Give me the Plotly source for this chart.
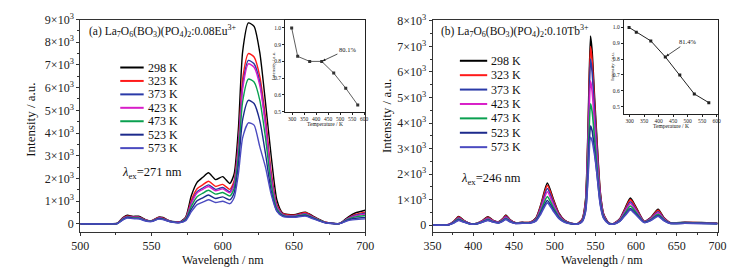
import plotly.graph_objects as go

# ---------------- data ----------------
temps = ["298 K", "323 K", "373 K", "423 K", "473 K", "523 K", "573 K"]
colors = ["#000000", "#ff1a1a", "#2a3aa8", "#d81ec8", "#0aa050", "#1c2a8c", "#4b4bc0"]

# Panel (a): Eu3+ emission
wl_a = [500, 520, 526, 530, 533, 537, 541, 546, 550, 555, 558, 563, 570, 574, 578,
        582, 586, 590, 595, 600, 605, 608, 611, 614, 618, 622, 626, 630, 634, 638,
        642, 650, 658, 664, 672, 682, 688, 693, 700]
a_298 = [0, 0, 30, 280, 380, 330, 340, 180, 140, 300, 280, 130, 90, 300, 1250,
         1830, 2050, 2250, 1950, 2080, 1780, 2200, 4200, 7600, 8850, 8700, 7550, 5350, 3000, 1050,
         480, 400, 520, 320, 80, 20, 300, 480, 600]
a_323 = [0, 0, 25, 260, 350, 310, 310, 170, 130, 280, 260, 120, 80, 260, 1050,
         1550, 1720, 1880, 1650, 1740, 1520, 1900, 3600, 6400, 7500, 7350, 6500, 4700, 2300, 850,
         450, 380, 490, 300, 70, 20, 260, 420, 520]
a_373 = [0, 0, 22, 240, 330, 290, 290, 160, 125, 265, 245, 115, 75, 240, 950,
         1420, 1580, 1720, 1520, 1600, 1420, 1780, 3400, 6100, 7200, 7050, 6250, 4450, 2100, 780,
         420, 360, 450, 280, 65, 18, 240, 380, 470]
a_423 = [0, 0, 20, 230, 320, 280, 280, 155, 120, 255, 235, 110, 70, 230, 900,
         1360, 1520, 1650, 1460, 1540, 1370, 1720, 3300, 5950, 7050, 6900, 6100, 4350, 2000, 740,
         400, 350, 430, 270, 60, 16, 230, 350, 430]
a_473 = [0, 0, 18, 210, 300, 260, 260, 145, 115, 240, 220, 105, 65, 200, 780,
         1200, 1350, 1480, 1310, 1380, 1230, 1560, 3000, 5400, 6380, 6250, 5450, 3800, 1750, 660,
         380, 330, 400, 250, 55, 15, 210, 310, 370]
a_523 = [0, 0, 16, 190, 280, 245, 240, 135, 110, 225, 205, 100, 60, 170, 650,
         1020, 1150, 1270, 1120, 1190, 1060, 1360, 2600, 4600, 5440, 5300, 4550, 3100, 1450, 570,
         350, 310, 370, 230, 50, 14, 180, 250, 280]
a_573 = [0, 0, 15, 175, 260, 230, 225, 125, 105, 210, 190, 95, 55, 140, 540,
         850, 960, 1060, 940, 1000, 890, 1150, 2200, 3800, 4450, 4350, 3400, 2500, 1300, 550,
         330, 290, 340, 210, 45, 12, 150, 190, 220]
series_a = [a_298, a_323, a_373, a_423, a_473, a_523, a_573]

# Panel (b): Tb3+ emission
wl_b = [350, 370, 376, 382, 388, 397, 405, 412, 418, 424, 431, 436, 440, 445, 452, 460,
        470, 477, 483, 491, 498, 505, 512, 520, 528, 534, 538, 541, 544, 546, 549, 552,
        556, 560, 566, 572, 580, 587, 593, 600, 610, 618, 627, 634, 642, 660, 680, 700]
b_298 = [10, 30, 150, 340, 200, 60, 80, 200, 330, 200, 130, 250, 400, 220, 100, 110,
         120, 280, 800, 1650, 1050, 480, 200, 80, 60, 250, 1000, 3800, 7400, 6800, 5000, 3300,
         1300, 450, 100, 60, 250, 700, 1060, 700, 150, 300, 620, 300, 100, 110, 100, 80]
b_323 = [10, 28, 140, 320, 190, 58, 76, 190, 310, 190, 125, 235, 370, 210, 95, 105,
         115, 265, 760, 1560, 1000, 455, 190, 76, 57, 235, 950, 3600, 7000, 6450, 4750, 3150,
         1250, 430, 95, 57, 235, 660, 1000, 660, 145, 285, 580, 285, 95, 105, 95, 76]
b_373 = [10, 26, 130, 290, 175, 55, 72, 175, 280, 175, 115, 215, 340, 195, 90, 100,
         108, 245, 700, 1440, 920, 420, 175, 72, 54, 220, 880, 3350, 6500, 6000, 4450, 2950,
         1180, 400, 90, 54, 220, 610, 920, 610, 138, 265, 530, 265, 90, 100, 90, 72]
b_423 = [9, 24, 120, 270, 165, 52, 68, 165, 260, 165, 108, 200, 310, 180, 85, 95,
         102, 225, 640, 1310, 840, 385, 162, 68, 52, 200, 800, 2950, 5650, 5250, 3950, 2650,
         1080, 370, 85, 52, 205, 565, 850, 565, 130, 245, 490, 245, 85, 95, 85, 68]
b_473 = [8, 22, 108, 240, 150, 48, 62, 148, 230, 148, 98, 180, 270, 160, 78, 88,
         95, 200, 560, 1120, 720, 335, 145, 62, 48, 180, 680, 2500, 4750, 4450, 3400, 2300,
         950, 330, 78, 48, 180, 500, 750, 500, 120, 220, 430, 220, 78, 88, 78, 62]
b_523 = [8, 20, 95, 210, 132, 45, 58, 132, 200, 132, 90, 160, 240, 145, 72, 80,
         88, 180, 490, 970, 630, 295, 130, 58, 45, 160, 580, 2050, 3880, 3700, 2900, 2000,
         850, 300, 72, 45, 160, 435, 650, 435, 110, 195, 380, 195, 72, 80, 72, 58]
b_573 = [7, 18, 88, 190, 122, 42, 55, 125, 190, 125, 85, 150, 230, 138, 68, 76,
         84, 165, 440, 875, 570, 270, 120, 55, 42, 150, 540, 1850, 3440, 3300, 2750, 2000,
         800, 280, 68, 42, 150, 400, 600, 400, 105, 180, 350, 180, 68, 76, 68, 55]
series_b = [b_298, b_323, b_373, b_423, b_473, b_523, b_573]

# Insets: normalised intensity vs temperature
inset_T = [298, 323, 373, 423, 473, 523, 573]
inset_a = [1.00, 0.83, 0.80, 0.80, 0.73, 0.64, 0.54]
inset_b = [1.00, 0.97, 0.915, 0.814, 0.70, 0.58, 0.525]

y_ticks_a = [0, 1000, 2000, 3000, 4000, 5000, 6000, 7000, 8000, 9000]
y_ticks_b = [0, 1000, 2000, 3000, 4000, 5000, 6000, 7000, 8000]
x_ticks_a = [500, 550, 600, 650, 700]
x_ticks_b = [350, 400, 450, 500, 550, 600, 650, 700]
inset_x_ticks = [300, 350, 400, 450, 500, 550, 600]
inset_y_ticks = [0.5, 0.6, 0.7, 0.8, 0.9, 1.0]

for s in series_a:
    assert len(s) == len(wl_a)
for s in series_b:
    assert len(s) == len(wl_b)

# ---------------- figure ----------------
W, H = 747, 273
FONT = "Liberation Serif"
AX = "#333333"


def px(x):
    return x / W


def py(y):
    return 1 - y / H


def sci(v):
    return "0" if v == 0 else f"{v // 1000}×10<sup>3</sup>"


fig = go.Figure()

for name, col, ya in zip(temps, colors, series_a):
    fig.add_trace(go.Scatter(x=wl_a, y=ya, mode="lines", name=name,
                             line=dict(color=col, width=1.4, shape="spline", smoothing=0.6),
                             xaxis="x", yaxis="y", showlegend=False))
for name, col, yb in zip(temps, colors, series_b):
    fig.add_trace(go.Scatter(x=wl_b, y=yb, mode="lines", name=name,
                             line=dict(color=col, width=1.6, shape="spline", smoothing=0.6),
                             xaxis="x2", yaxis="y2", showlegend=False))

fig.add_trace(go.Scatter(x=inset_T, y=inset_a, mode="lines+markers",
                         line=dict(color="#333", width=0.8),
                         marker=dict(symbol="square", size=3, color="#333"),
                         xaxis="x3", yaxis="y3", showlegend=False))
fig.add_trace(go.Scatter(x=inset_T, y=inset_b, mode="lines+markers",
                         line=dict(color="#222", width=1),
                         marker=dict(symbol="square", size=3, color="#222"),
                         xaxis="x4", yaxis="y4", showlegend=False))

main_axis = dict(showline=True, mirror=True, linecolor=AX, linewidth=1, showgrid=False,
                 zeroline=False, ticks="outside", ticklen=3, tickcolor=AX,
                 tickfont=dict(family=FONT, size=12, color="#222"))
inset_axis = dict(showline=True, mirror=True, linecolor="#222", linewidth=1, showgrid=False,
                  zeroline=False, ticks="outside", ticklen=2, tickcolor="#222",
                  tickfont=dict(family=FONT, size=5.5, color="#222"))

fig.update_layout(
    width=W, height=H, margin=dict(l=0, r=0, t=0, b=0),
    paper_bgcolor="white", plot_bgcolor="white",
    font=dict(family=FONT, color="#222"),
    xaxis=dict(main_axis, domain=[px(73), px(365)], range=[500, 700], anchor="y",
               tickvals=x_ticks_a, minor=dict(ticks="outside", ticklen=2, dtick=25, tick0=500)),
    yaxis=dict(main_axis, domain=[py(233), py(12)], range=[-340, 9000], anchor="x",
               tickvals=y_ticks_a, ticktext=[sci(v) for v in y_ticks_a],
               minor=dict(ticks="outside", ticklen=2, dtick=500, tick0=0)),
    xaxis2=dict(main_axis, domain=[px(434), px(726)], range=[350, 700], anchor="y2",
                tickvals=x_ticks_b, minor=dict(ticks="outside", ticklen=2, dtick=25, tick0=350)),
    yaxis2=dict(main_axis, domain=[py(233), py(12)], range=[-250, 8050], anchor="x2",
                tickvals=y_ticks_b, ticktext=[sci(v) for v in y_ticks_b],
                minor=dict(ticks="outside", ticklen=2, dtick=500, tick0=0)),
    xaxis3=dict(inset_axis, domain=[px(283), px(365)], range=[271, 604], anchor="y3",
                tickvals=inset_x_ticks),
    yaxis3=dict(inset_axis, domain=[py(108), py(12)], range=[0.5, 1.05], anchor="x3",
                tickvals=inset_y_ticks, tickformat=".1f"),
    xaxis4=dict(inset_axis, domain=[px(630), px(726)], range=[280, 603], anchor="y4",
                tickvals=inset_x_ticks),
    yaxis4=dict(inset_axis, domain=[py(110), py(12)], range=[0.456, 1.05], anchor="x4",
                tickvals=inset_y_ticks, tickformat=".1f"),
)

ann = []
shapes = []


def text(x, y, t, size, xanchor="center", angle=0):
    ann.append(dict(x=px(x), y=py(y), xref="paper", yref="paper", text=t, showarrow=False,
                    xanchor=xanchor, yanchor="middle", textangle=angle,
                    font=dict(family=FONT, size=size, color="#111")))


# axis titles
text(22, 116, "Intensity / a.u.", 13, angle=-90)
text(387, 113, "Intensity / a.u.", 13, angle=-90)
text(219, 263, "Wavelength / nm", 12)
text(608, 263, "Wavelength / nm", 12)
# inset titles
text(271, 60, "Intensity / a.u.", 5, angle=-90)
text(618, 61, "Intensity / a.u.", 5, angle=-90)
text(324, 121, "Temperature / K", 5.5)
text(678, 123, "Temperature / K", 5.5)
# panel titles
text(80, 24, "(a) La<sub>7</sub>O<sub>6</sub>(BO<sub>3</sub>)(PO<sub>4</sub>)<sub>2</sub>:0.08Eu<sup>3+</sup>",
     11.5, xanchor="left")
text(441, 24, "(b) La<sub>7</sub>O<sub>6</sub>(BO<sub>3</sub>)(PO<sub>4</sub>)<sub>2</sub>:0.10Tb<sup>3+</sup>",
     11.5, xanchor="left")
text(114, 172, "<i>λ</i><sub>ex</sub>=271 nm", 12.5, xanchor="left")
text(461, 178, "<i>λ</i><sub>ex</sub>=246 nm", 12.5, xanchor="left")

# manual legends
for i, (name, col) in enumerate(zip(temps, colors)):
    ya = 62 + i * 14
    shapes.append(dict(type="line", xref="paper", yref="paper", x0=px(114), x1=px(138),
                       y0=py(ya), y1=py(ya), line=dict(color=col, width=2)))
    text(140, ya, name, 12, xanchor="left")
    yb = 55 + i * 15
    shapes.append(dict(type="line", xref="paper", yref="paper", x0=px(462), x1=px(490),
                       y0=py(yb), y1=py(yb), line=dict(color=col, width=2)))
    text(492, yb, name, 12, xanchor="left")

# inset arrows
ann.append(dict(x=inset_T[3], y=inset_a[3], xref="x3", yref="y3", axref="x3", ayref="y3",
                ax=530, ay=0.872, text="80.1%", showarrow=True, arrowhead=2, arrowsize=0.7,
                arrowwidth=0.8, arrowcolor="#222", standoff=1,
                font=dict(family=FONT, size=6.5, color="#111")))
ann.append(dict(x=inset_T[3], y=inset_b[3], xref="x4", yref="y4", axref="x4", ayref="y4",
                ax=500, ay=0.91, text="81.4%", showarrow=True, arrowhead=2, arrowsize=0.7,
                arrowwidth=0.8, arrowcolor="#222", standoff=1,
                font=dict(family=FONT, size=6.5, color="#111")))

fig.update_layout(annotations=ann, shapes=shapes)
fig.write_html("out.html", config={"displayModeBar": False},
               post_script="document.body.style.margin='0';document.body.style.padding='0';")
